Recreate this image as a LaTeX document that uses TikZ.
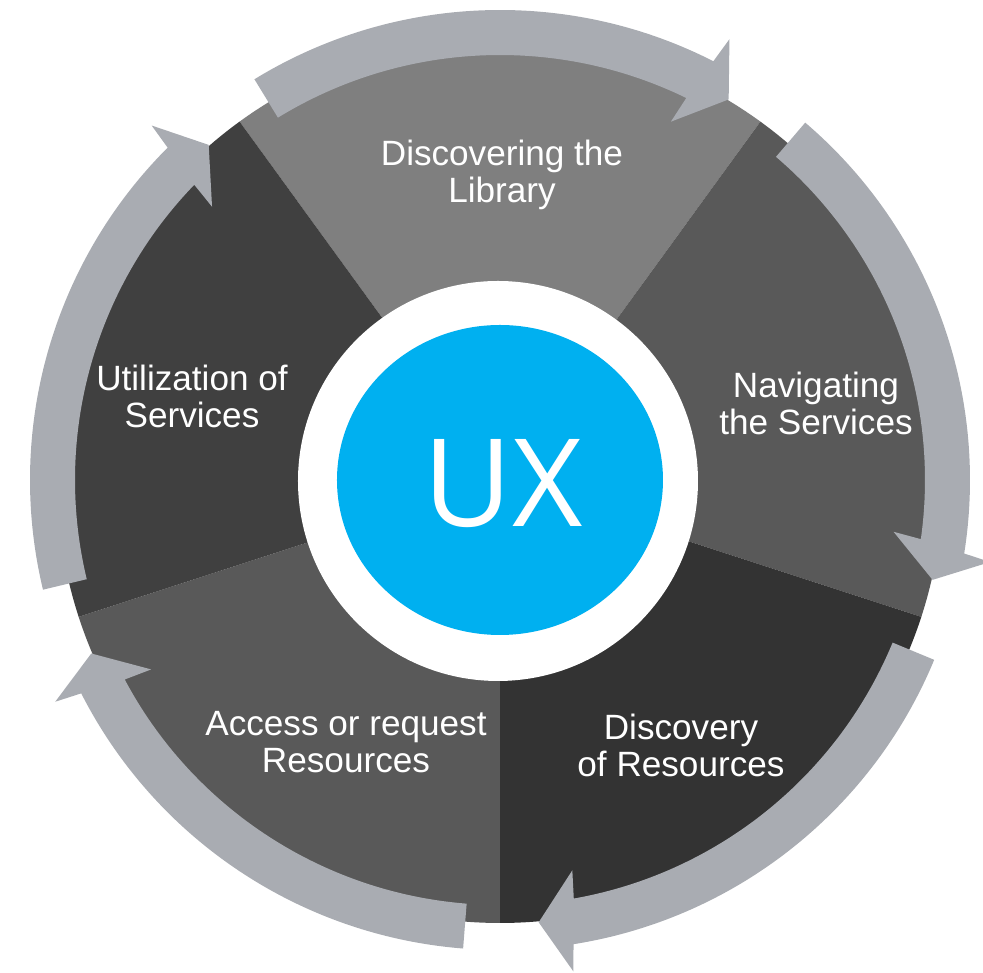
\documentclass[tikz,border=0pt]{standalone}
\usepackage{fontspec}
\setmainfont{Liberation Sans}
\newfontfamily\uxfont{Open Sans}
\usepackage[usenames,dvipsnames]{xcolor}
\usepackage{tikz}
\definecolor{ringgray}{HTML}{A9ACB2}
\definecolor{uxblue}{HTML}{00B0F0}
\definecolor{gray7f}{HTML}{7F7F7F}
\definecolor{gray59}{HTML}{595959}
\definecolor{gray40}{HTML}{404040}
\definecolor{gray33}{HTML}{333333}

\begin{document}
\begin{tikzpicture}[
  seg/.style={fill=#1},
  ring/.style={fill=ringgray},
  lbl/.style={text=white,align=center,font=\fontsize{10}{10.5}\selectfont}]
\useasboundingbox (-5,-4.93) rectangle (4.83,4.8);

  \fill[seg=gray7f] (0,0) -- (54:4.43) arc[start angle=54,end angle=126,radius=4.43] -- cycle;
  \fill[seg=gray59] (0,0) -- (-18:4.43) arc[start angle=-18,end angle=54,radius=4.43] -- cycle;
  \fill[seg=gray33] (0,0) -- (-90:4.43) arc[start angle=-90,end angle=-18,radius=4.43] -- cycle;
  \fill[seg=gray59] (0,0) -- (198:4.43) arc[start angle=198,end angle=270,radius=4.43] -- cycle;
  \fill[seg=gray40] (0,0) -- (126:4.43) arc[start angle=126,end angle=198,radius=4.43] -- cycle;

  \fill[ring] (121.5:4.7) arc[start angle=121.5,end angle=63,radius=4.7] -- (62.5:4.97) -- (59:4.44)
     -- (64.5:3.97) -- (64:4.25) arc[start angle=64,end angle=121.5,radius=4.25] -- cycle;
  \fill[ring] (49.5:4.7) arc[start angle=49.5,end angle=-9,radius=4.7] -- (-9.5:4.97) -- (-13:4.44)
     -- (-7.5:3.97) -- (-8:4.25) arc[start angle=-8,end angle=49.5,radius=4.25] -- cycle;
  \fill[ring] (-22.5:4.7) arc[start angle=-22.5,end angle=-81,radius=4.7] -- (-81.5:4.97) -- (-85:4.44)
     -- (-79.5:3.97) -- (-80:4.25) arc[start angle=-80,end angle=-22.5,radius=4.25] -- cycle;
  \fill[ring] (-94.5:4.7) arc[start angle=-94.5,end angle=-153,radius=4.7] -- (-153.5:4.97) -- (-157:4.44)
     -- (-151.5:3.97) -- (-152:4.25) arc[start angle=-152,end angle=-94.5,radius=4.25] -- cycle;
  \fill[ring] (193.5:4.7) arc[start angle=193.5,end angle=135,radius=4.7] -- (134.5:4.97) -- (131:4.44)
     -- (136.5:3.97) -- (136:4.25) arc[start angle=136,end angle=193.5,radius=4.25] -- cycle;

  \fill[white] (-0.02,-0.01) circle[radius=2];
  \fill[uxblue] (0,0) ellipse[x radius=1.63,y radius=1.55];
  \draw (0.03,-0.47) node[anchor=base,text=white,font=\uxfont\fontsize{34.7}{40}\selectfont] (ux) {UX};

      \draw (0.02,3.055) node[lbl] (lib) {Discovering the\\Library};
  \draw (3.16,0.77) node[lbl] (nav) {Navigating\\the Services};
  \draw (1.81,-2.65) node[lbl] (disc) {Discovery\\of Resources};
      \draw (-1.54,-2.62) node[lbl] (acc) {Access or request\\Resources};
  \draw (-3.08,0.84) node[lbl] (util) {Utilization of\\Services};
\end{tikzpicture}
\end{document}
